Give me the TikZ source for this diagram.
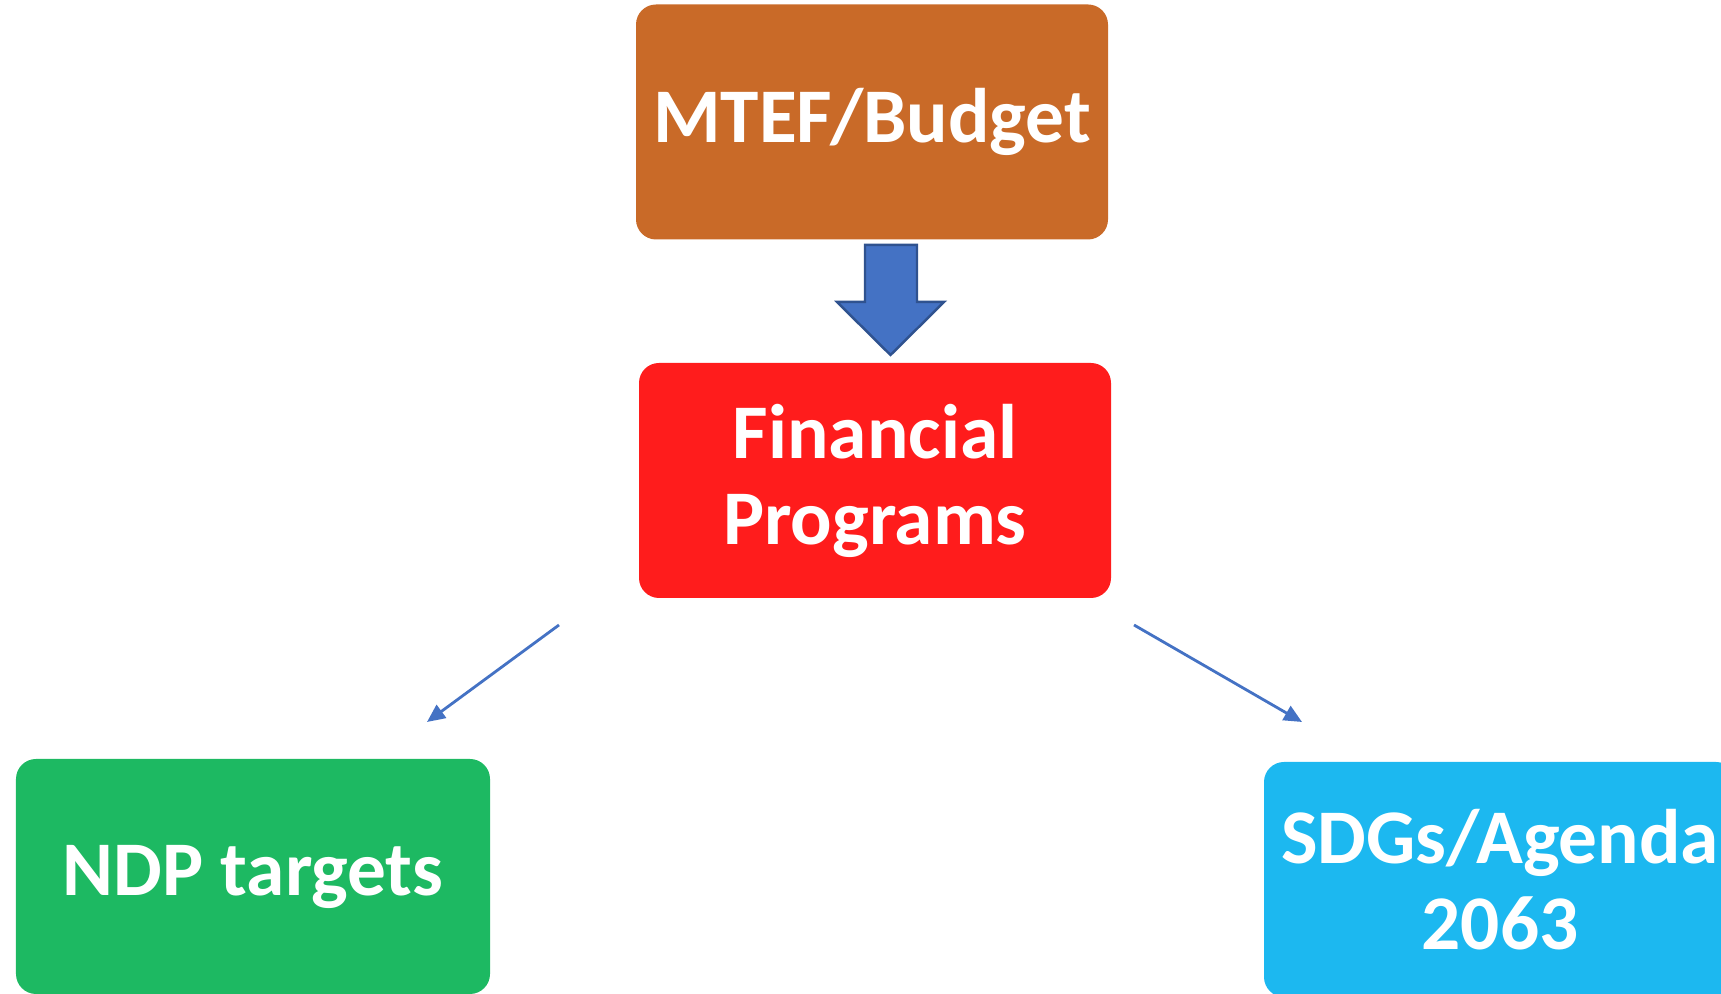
\documentclass[tikz,border=0pt]{standalone}
\usepackage{fontspec}
\setmainfont{Carlito}
\usetikzlibrary{positioning,arrows.meta}

\definecolor{budgetorange}{RGB}{201,106,40}
\definecolor{progred}{RGB}{255,28,28}
\definecolor{ndpgreen}{RGB}{29,185,98}
\definecolor{sdgblue}{RGB}{28,184,240}
\definecolor{arrowblue}{RGB}{68,114,196}
\definecolor{arrowedge}{RGB}{47,82,143}

\tikzset{
  box/.style = {shape = rectangle, rounded corners = 0.2cm, minimum width = 4.72cm, minimum height = 2.35cm, inner sep = 0pt, align = center, text = white, font = \bfseries\fontsize{22}{24.5}\selectfont},
  thinarrow/.style = {draw = arrowblue, line width = 0.8pt, -{Triangle[length = 0.18cm, width = 0.16cm]}}
}

\begin{document}
\begin{tikzpicture}
\useasboundingbox (0,0) rectangle (17.21,9.94);
\node[box, fill = budgetorange] (mtef) at (8.72,8.72) {MTEF/Budget};
\node[box, fill = progred] (fin) at (8.75,5.135) {Financial\\Programs};
\node[box, fill = ndpgreen, minimum width = 4.74cm] (ndp) at (2.53,1.175) {NDP targets};
\node[box, fill = sdgblue] (sdg) at (15.00,1.145) {SDGs/Agenda\\2063};
% block arrow between budget and programs
\coordinate (shaftL) at (8.65,7.49);
\coordinate (shaftR) at (9.17,7.49);
\coordinate (tip) at (8.905,6.39);
\draw[fill = arrowblue, draw = arrowedge, line width = 0.7pt, line join = miter]
  (shaftL) -- (shaftR) -- (9.17,6.92) -- (9.44,6.92) -- (tip) -- (8.37,6.92) -- (8.65,6.92) -- cycle;
% thin arrows
\coordinate (finL) at (5.59,3.69);
\coordinate (finR) at (11.34,3.69);
\coordinate (ndpIn) at (4.27,2.72);
\coordinate (sdgIn) at (13.02,2.72);
\draw[thinarrow] (finL) -- (ndpIn);
\draw[thinarrow] (finR) -- (sdgIn);
\end{tikzpicture}
\end{document}
